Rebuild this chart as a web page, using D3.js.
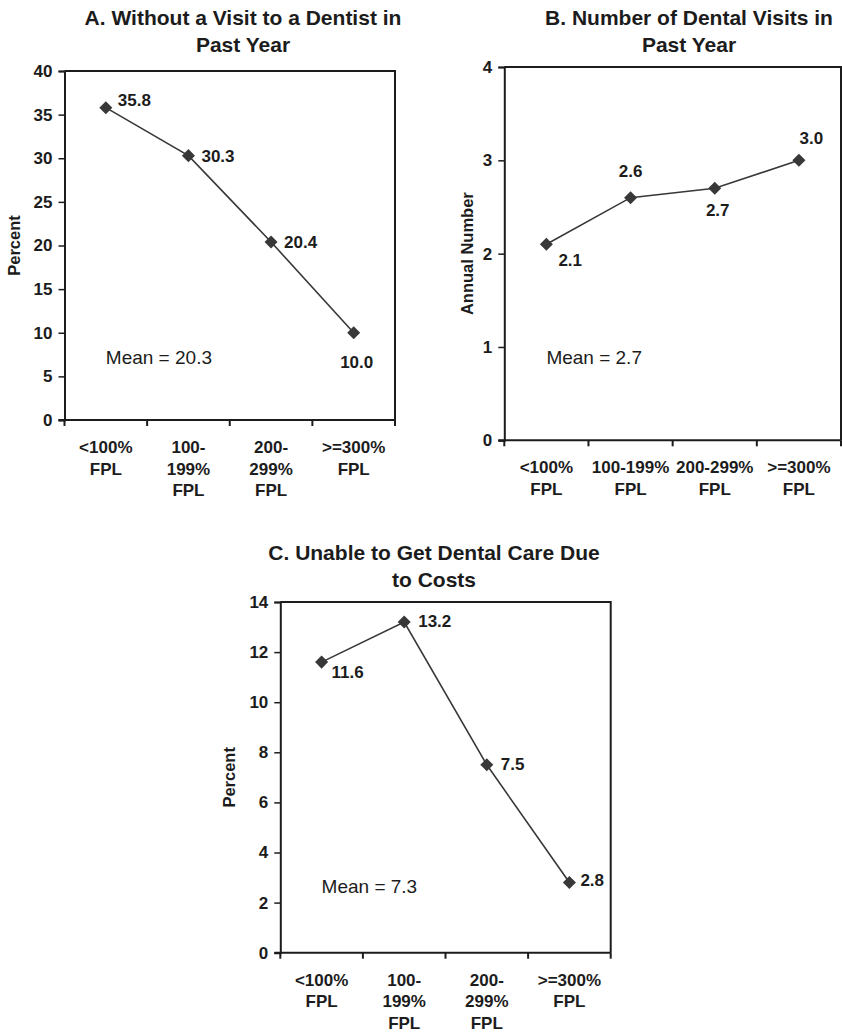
<!DOCTYPE html>
<html>
<head>
<meta charset="utf-8">
<script src="https://cdn.jsdelivr.net/npm/d3@7"></script>
<style>
  html, body { margin: 0; padding: 0; background: #fff; }
  svg { display: block; font-family: "Liberation Sans", Arial, sans-serif; }
</style>
</head>
<body>
<svg id="chart" width="842" height="1033"></svg>
<script>
// Income groups (federal poverty level), one line per row of the label
const categoriesA = ["<100%\nFPL", "100-\n199%\nFPL", "200-\n299%\nFPL", ">=300%\nFPL"];
const categoriesB = ["<100%\nFPL", "100-199%\nFPL", "200-299%\nFPL", ">=300%\nFPL"];
const categoriesC = ["<100%\nFPL", "100-\n199%\nFPL", "200-\n299%\nFPL", ">=300%\nFPL"];

// Series values
const valuesA = [35.8, 30.3, 20.4, 10.0];
const valuesB = [2.1, 2.6, 2.7, 3.0];
const valuesC = [11.6, 13.2, 7.5, 2.8];

// Overall means
const meanA = 20.3;
const meanB = 2.7;
const meanC = 7.3;

// Y-axis ticks
const ticksA = [0, 5, 10, 15, 20, 25, 30, 35, 40];
const ticksB = [0, 1, 2, 3, 4];
const ticksC = [0, 2, 4, 6, 8, 10, 12, 14];

// Titles and axis names
const titlesA = ["A. Without a Visit to a Dentist in", "Past Year"];
const titlesB = ["B. Number of Dental Visits in", "Past Year"];
const titlesC = ["C. Unable to Get Dental Care Due", "to Costs"];
const yNameA = "Percent";
const yNameB = "Annual Number";
const yNameC = "Percent";

const INK = "#1c1c1c";
const LINE = "#383838";
const LABEL_SIZE = "17px";

// Panel geometry and label placement
const panels = [
  {
    cats: categoriesA, values: valuesA, mean: meanA, ticks: ticksA, title: titlesA, yName: yNameA,
    box: { x0: 64.5, x1: 395, y0: 71, y1: 420 },
    titleX: 243, titleY: 25, yNameX: 19.5,
    meanDy: 56,
    labelPos: [
      { dx: 12, dy: -2, anchor: "start" },
      { dx: 13, dy: 6, anchor: "start" },
      { dx: 13, dy: 6, anchor: "start" },
      { dx: 3, dy: 35, anchor: "middle" }
    ]
  },
  {
    cats: categoriesB, values: valuesB, mean: meanB, ticks: ticksB, title: titlesB, yName: yNameB,
    box: { x0: 504.3, x1: 841, y0: 67, y1: 440.3 },
    titleX: 689, titleY: 24.5, yNameX: 473,
    meanDy: 76,
    labelPos: [
      { dx: 12, dy: 22, anchor: "start" },
      { dx: 0, dy: -21, anchor: "middle" },
      { dx: 3, dy: 28, anchor: "middle" },
      { dx: 12.5, dy: -16, anchor: "middle" }
    ]
  },
  {
    cats: categoriesC, values: valuesC, mean: meanC, ticks: ticksC, title: titlesC, yName: yNameC,
    box: { x0: 280.3, x1: 610.7, y0: 602, y1: 952.7 },
    titleX: 434, titleY: 560, yNameX: 235,
    meanDy: 60,
    labelPos: [
      { dx: 10, dy: 16, anchor: "start" },
      { dx: 14, dy: 5, anchor: "start" },
      { dx: 14, dy: 5, anchor: "start" },
      { dx: 11, dy: 3, anchor: "start" }
    ]
  }
];

const svg = d3.select("#chart");

panels.forEach(p => {
  const g = svg.append("g");
  const { x0, x1, y0, y1 } = p.box;

  const x = d3.scaleBand().domain(p.cats).range([x0, x1]).paddingInner(0).paddingOuter(0);
  const y = d3.scaleLinear().domain([0, d3.max(p.ticks)]).range([y1, y0]);
  const cx = d => x(d) + x.bandwidth() / 2;

  // Title (two lines)
  g.append("text")
    .attr("x", p.titleX).attr("y", p.titleY)
    .attr("text-anchor", "middle")
    .style("font-size", "21px").style("font-weight", "bold").attr("fill", INK)
    .selectAll("tspan").data(p.title).join("tspan")
    .attr("x", p.titleX).attr("dy", (d, i) => i === 0 ? 0 : 27)
    .text(d => d);

  // Frame: top and right border
  g.append("path")
    .attr("d", `M${x0},${y0}H${x1}V${y1}`)
    .attr("fill", "none").attr("stroke", INK).attr("stroke-width", 2);

  // Y axis
  const yAxis = g.append("g")
    .attr("transform", `translate(${x0},0)`)
    .call(d3.axisLeft(y).tickValues(p.ticks).tickSize(6).tickPadding(6).tickFormat(d3.format("d")));
  yAxis.select(".domain").attr("stroke", INK).attr("stroke-width", 2);
  yAxis.selectAll(".tick line").attr("stroke", INK).attr("stroke-width", 1.5);
  yAxis.selectAll(".tick text")
    .attr("fill", INK).style("font-size", LABEL_SIZE).style("font-weight", "bold")
    .style("font-family", "'Liberation Sans', Arial, sans-serif");

  // X axis: ticks at category boundaries
  const xAxis = g.append("g").attr("transform", `translate(0,${y1})`);
  xAxis.append("line")
    .attr("x1", x0 - 6).attr("x2", x1).attr("y1", 0).attr("y2", 0)
    .attr("stroke", INK).attr("stroke-width", 2);
  const bounds = p.cats.map(c => x(c)).concat([x1]);
  xAxis.selectAll("line.tick").data(bounds).join("line")
    .attr("class", "tick")
    .attr("x1", d => d).attr("x2", d => d)
    .attr("y1", 0).attr("y2", 6)
    .attr("stroke", INK).attr("stroke-width", 2);
  xAxis.selectAll("text.cat").data(p.cats).join("text")
    .attr("class", "cat")
    .attr("text-anchor", "middle")
    .attr("fill", INK).style("font-size", LABEL_SIZE).style("font-weight", "bold")
    .each(function (d) {
      d3.select(this).selectAll("tspan").data(d.split("\n")).join("tspan")
        .attr("x", cx(d))
        .attr("y", (t, i) => 33 + i * 21.7)
        .text(t => t);
    });

  // Y axis name
  const ymid = (y0 + y1) / 2;
  g.append("text")
    .attr("transform", `translate(${p.yNameX},${ymid}) rotate(-90)`)
    .attr("text-anchor", "middle")
    .attr("fill", INK).style("font-size", "16.5px").style("font-weight", "bold")
    .text(p.yName);

  // Series line
  const line = d3.line().x((d, i) => cx(p.cats[i])).y(d => y(d));
  g.append("path")
    .datum(p.values)
    .attr("d", line)
    .attr("fill", "none").attr("stroke", LINE).attr("stroke-width", 1.6);

  // Diamond markers
  const diamond = d3.symbol(d3.symbolSquare, 85);
  g.selectAll("path.marker").data(p.values).join("path")
    .attr("class", "marker")
    .attr("d", diamond)
    .attr("transform", (d, i) => `translate(${cx(p.cats[i])},${y(d)}) rotate(45)`)
    .attr("fill", LINE);

  // Value labels
  g.selectAll("text.value").data(p.values).join("text")
    .attr("class", "value")
    .attr("x", (d, i) => cx(p.cats[i]) + p.labelPos[i].dx)
    .attr("y", (d, i) => y(d) + p.labelPos[i].dy)
    .attr("text-anchor", (d, i) => p.labelPos[i].anchor)
    .attr("fill", INK).style("font-size", LABEL_SIZE).style("font-weight", "bold")
    .text(d => d3.format(".1f")(d));

  // Mean annotation
  g.append("text")
    .attr("x", cx(p.cats[0]))
    .attr("y", y1 - p.meanDy)
    .attr("fill", INK).style("font-size", "19px")
    .text(`Mean = ${d3.format(".1f")(p.mean)}`);
});
</script>
</body>
</html>
